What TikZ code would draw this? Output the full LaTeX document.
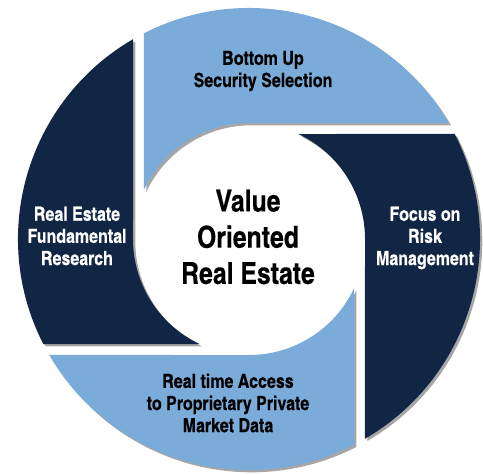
\documentclass[tikz,border=0pt]{standalone}
\usepackage{fontspec}
\usetikzlibrary{shadows}
\newfontfamily\cnfont{texgyreheroscn-bold.otf}[FakeBold=0.3]
\definecolor{paleblue}{RGB}{123,171,217}
\definecolor{navyblue}{RGB}{17,37,69}
\tikzset{
  segshadow/.style={drop shadow={shadow xshift=1.3pt, shadow yshift=-1.3pt, fill=black, opacity=.35}},
  seglabel/.style={font=\cnfont\fontsize{11.1}{12.6}\selectfont, align=center},
  hublabel/.style={font=\cnfont\fontsize{17.2}{20.6}\selectfont, align=center}
}
\begin{document}
\begin{tikzpicture}[x=0.02cm,y=0.02cm]
\useasboundingbox (-249,-235) rectangle (234,239);
% four ring pieces, turned by a quarter each
\foreach \ang/\col in {0/paleblue,-90/navyblue,-180/paleblue,-270/navyblue}
  \fill[\col, segshadow] ({117.04+\ang}:231) -- ({154.85+\ang}:116)
    arc[start angle=154.85+\ang, end angle=90+\ang, radius=116]
    -- ({30.14+\ang}:231)
    arc[start angle=30.14+\ang, end angle=117.04+\ang, radius=231] -- cycle;
\node[seglabel] (secsel) at (14,168) {Bottom Up\\Security Selection};
\node[seglabel, white] (riskmgmt) at (176,1) {Focus on\\Risk\\Management};
\node[seglabel] (mktdata) at (-21,-164) {Real time Access\\to Proprietary Private\\Market Data};
\node[seglabel, white] (research) at (-172,3) {Real Estate\\Fundamental\\Research};
\node[hublabel] (hub) at (-1,2) {Value\\Oriented\\Real Estate};
\end{tikzpicture}
\end{document}
